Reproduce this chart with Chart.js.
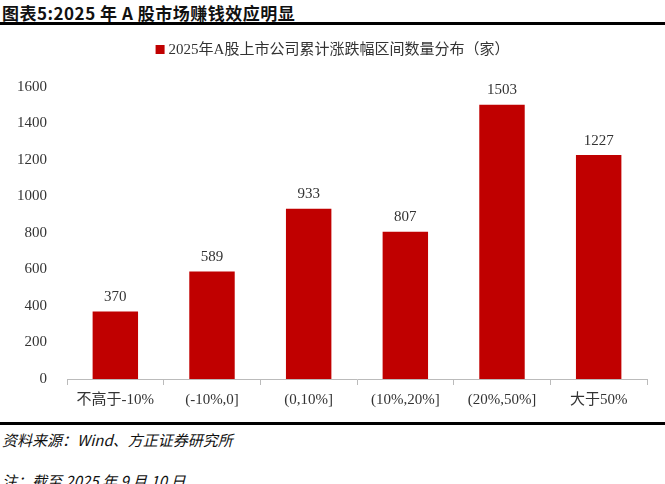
<!DOCTYPE html>
<html><head><meta charset="utf-8">
<script src="https://cdn.jsdelivr.net/npm/chart.js@4/dist/chart.umd.min.js"></script>
<style>
body{margin:0;width:665px;height:484px;overflow:hidden;background:#fff;position:relative;font-family:"Liberation Serif","Noto Sans CJK SC",serif}
#t{position:absolute;left:2px;top:0px;font:bold 17px "Noto Sans CJK SC",sans-serif;color:#111;letter-spacing:0.5px}
.ln{position:absolute;left:0;width:665px;height:3px;background:#000}
#src{position:absolute;left:2px;top:429px;font:italic 15px "Noto Sans CJK SC",sans-serif;color:#111}
#note{position:absolute;left:2px;top:470px;font:italic 15px "Noto Sans CJK SC",sans-serif;color:#111}
#c{position:absolute;left:0;top:28px}
</style></head><body>
<div id="t">图表5:2025 年 A 股市场赚钱效应明显</div>
<div class="ln" style="top:22px"></div>
<canvas id="c" width="665" height="392" style="width:665px;height:392px"></canvas>
<div class="ln" style="top:422px"></div>
<div id="src">资料来源：Wind、方正证券研究所</div>
<div id="note">注：截至 2025 年 9 月 10 日</div>
<script>
const categories=["不高于-10%","(-10%,0]","(0,10%]","(10%,20%]","(20%,50%]","大于50%"];
const seriesName="2025年A股上市公司累计涨跌幅区间数量分布（家）";
const values=[370,589,933,807,1503,1227];
const yTicks=[0,200,400,600,800,1000,1200,1400,1600];
const font={family:'"Liberation Serif","Noto Sans CJK SC",serif',size:15};
const labelPlugin={id:'lbl',
 afterDraw(ch){const c=ch.ctx;c.save();
  c.font='15px "Liberation Serif","Noto Sans CJK SC",serif';c.textBaseline='middle';c.textAlign='left';
  const w=c.measureText(seriesName).width;const x0=(665-w-13)/2;
  c.fillStyle='#c00000';c.fillRect(x0,17,9,9);c.fillStyle='#333';c.fillText(seriesName,x0+13,22);
  c.font='15px "Liberation Serif",serif';c.textAlign='center';c.textBaseline='bottom';
  ch.getDatasetMeta(0).data.forEach((b,i)=>c.fillText(values[i],b.x,b.y-7));c.restore();}};
new Chart(document.getElementById('c'),{type:'bar',
 data:{labels:categories,datasets:[{label:seriesName,data:values,backgroundColor:'#c00000',barPercentage:0.47,categoryPercentage:1}]},
 options:{responsive:false,animation:false,layout:{padding:{right:18,left:0,top:59}},
  plugins:{tooltip:{enabled:false},legend:{display:false}},
  scales:{
   x:{grid:{display:true,drawOnChartArea:false,offset:true,tickLength:6,color:'#bbb'},border:{color:'#bbb'},ticks:{font,color:'#333',maxRotation:0,padding:6},afterFit(a){a.height=41;}},
   y:{min:0,max:1600,afterBuildTicks(a){a.ticks=yTicks.map(v=>({value:v}));},grid:{display:false},border:{display:false},ticks:{font,color:'#333',padding:12,callback:v=>String(v)},afterFit(a){a.width=67;}}
  }},
 plugins:[labelPlugin]});
</script></body></html>
